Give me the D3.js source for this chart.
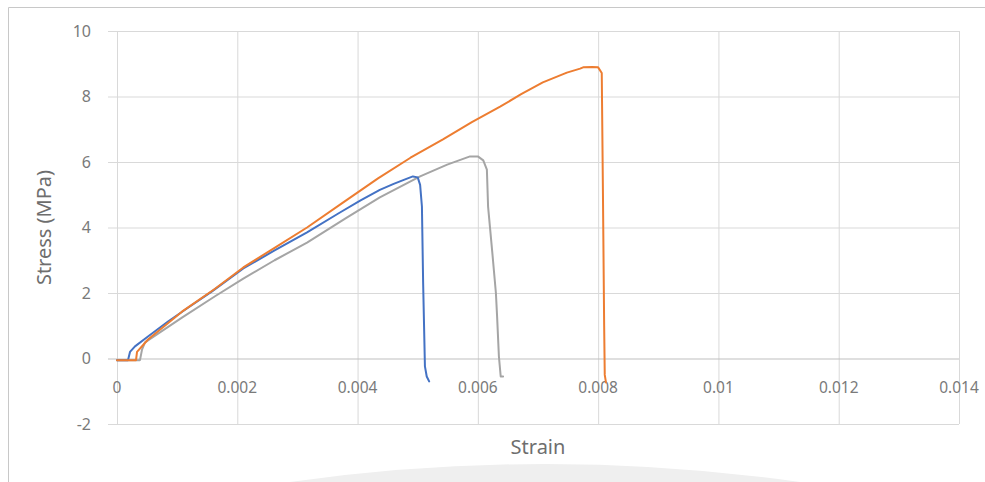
<!DOCTYPE html>
<html>
<head>
<meta charset="utf-8">
<script src="https://cdn.jsdelivr.net/npm/d3@7"></script>
<style>
  html, body { margin: 0; padding: 0; background: #fff; }
  svg { display: block; }
  text { font-family: "Noto Sans", "Open Sans", sans-serif; }
</style>
</head>
<body>
<svg id="chart" width="985" height="482"></svg>
<script>
// ---- data ----
const xTicks = [0, 0.002, 0.004, 0.006, 0.008, 0.01, 0.012, 0.014];
const xTickLabels = ["0", "0.002", "0.004", "0.006", "0.008", "0.01", "0.012", "0.014"];
const yTicks = [-2, 0, 2, 4, 6, 8, 10];
const yTickLabels = ["-2", "0", "2", "4", "6", "8", "10"];

const blueStrain = [0, 0.000183, 0.000216, 0.000299, 0.000515, 0.000848, 0.00118, 0.00158, 0.00210, 0.00262, 0.00316, 0.00370, 0.00405, 0.00437, 0.00460, 0.00478, 0.00492, 0.00500, 0.00504, 0.00507, 0.00509, 0.00512, 0.00515, 0.00519];
const blueStress = [-0.05, -0.05, 0.2, 0.37, 0.67, 1.13, 1.55, 2.05, 2.75, 3.30, 3.85, 4.45, 4.83, 5.15, 5.33, 5.46, 5.56, 5.53, 5.30, 4.64, 2.32, -0.24, -0.55, -0.70];

const orangeStrain = [0, 0.000316, 0.000333, 0.000515, 0.00108, 0.00163, 0.00210, 0.00262, 0.00316, 0.00375, 0.00434, 0.00488, 0.00542, 0.00590, 0.00637, 0.00672, 0.00708, 0.00748, 0.00770, 0.00775, 0.00790, 0.00800, 0.00806, 0.00808, 0.00810, 0.00811, 0.00813];
const orangeStress = [-0.05, -0.05, 0.2, 0.58, 1.43, 2.13, 2.78, 3.38, 4.00, 4.75, 5.50, 6.13, 6.69, 7.22, 7.69, 8.07, 8.43, 8.73, 8.85, 8.89, 8.90, 8.89, 8.72, 5.0, 1.0, -0.5, -0.73];

const grayStrain = [0, 0.000382, 0.000416, 0.000466, 0.00108, 0.00163, 0.00210, 0.00262, 0.00316, 0.00380, 0.00437, 0.00504, 0.00549, 0.00587, 0.00600, 0.00609, 0.00615, 0.00617, 0.00624, 0.00630, 0.00632, 0.00635, 0.00638, 0.00642];
const grayStress = [-0.05, -0.05, 0.27, 0.49, 1.25, 1.90, 2.44, 3.00, 3.54, 4.28, 4.92, 5.56, 5.92, 6.17, 6.17, 6.05, 5.77, 4.64, 3.24, 2.00, 1.28, 0.06, -0.55, -0.55];

const seriesColors = ["#4472C4", "#ED7D31", "#A5A5A5"];

// ---- layout ----
const svg = d3.select("#chart");
const W = 985, H = 482;
const plot = { left: 117, right: 959, top: 31, bottom: 424 };

const x = d3.scaleLinear().domain([0, 0.014]).range([plot.left, plot.right]);
const y = d3.scaleLinear().domain([-2, 10]).range([plot.bottom, plot.top]);

// faint watermark dome at the bottom
{
  const p = d3.path();
  p.moveTo(290, 482);
  p.quadraticCurveTo(545, 446, 800, 482);
  p.closePath();
  svg.append("path").attr("d", p.toString()).attr("fill", "#efefef");
}

// outer frame (top and left edges visible)
svg.append("line").attr("x1", 8.5).attr("x2", W).attr("y1", 7.5).attr("y2", 7.5)
  .attr("stroke", "#c8c8c8").attr("stroke-width", 1);
svg.append("line").attr("x1", 8.5).attr("x2", 8.5).attr("y1", 7.5).attr("y2", H)
  .attr("stroke", "#c8c8c8").attr("stroke-width", 1);

// vertical gridlines
const xAxis = d3.axisBottom(x).tickValues(xTicks).tickSize(-(plot.bottom - plot.top)).tickFormat("");
svg.append("g").attr("transform", `translate(0,${plot.bottom})`).call(xAxis)
  .call(g => g.select(".domain").remove())
  .call(g => g.selectAll(".tick line").attr("stroke", "#d9d9d9").attr("stroke-width", 1));

// horizontal gridlines with labels
const yAxis = d3.axisLeft(y).tickValues(yTicks)
  .tickSize(-(plot.right - plot.left + 9)).tickPadding(0)
  .tickFormat((d, i) => yTickLabels[i]);
svg.append("g").attr("transform", `translate(${plot.right},0)`).call(yAxis)
  .call(g => g.select(".domain").remove())
  .call(g => g.selectAll(".tick line")
      .attr("x1", 0).attr("x2", -(plot.right - plot.left + 9))
      .attr("stroke", d => d === 0 ? "#bfbfbf" : "#d9d9d9").attr("stroke-width", 1))
  .call(g => g.selectAll(".tick text")
      .attr("x", -(plot.right - 91)).attr("dy", "0.34em")
      .attr("text-anchor", "end")
      .attr("fill", "#7a7a7a").style("font-size", "16px"));

// x tick labels next to the zero line
svg.append("g").selectAll("text").data(xTicks).join("text")
  .attr("x", d => x(d)).attr("y", y(0) + 34)
  .attr("text-anchor", "middle")
  .attr("fill", "#7a7a7a").style("font-size", "15.5px")
  .text((d, i) => xTickLabels[i]);

// series
const line = d3.line().x(d => x(d[0])).y(d => y(d[1]));
const series = [
  d3.zip(blueStrain, blueStress),
  d3.zip(orangeStrain, orangeStress),
  d3.zip(grayStrain, grayStress)
];
const drawOrder = [2, 0, 1];
drawOrder.forEach(i => {
  svg.append("path").datum(series[i])
    .attr("d", line).attr("fill", "none")
    .attr("stroke", seriesColors[i]).attr("stroke-width", 2)
    .attr("stroke-linejoin", "round").attr("stroke-linecap", "round");
});

// axis titles
svg.append("text").attr("x", (plot.left + plot.right) / 2).attr("y", 454)
  .attr("text-anchor", "middle").attr("fill", "#6e6e6e").style("font-size", "20px")
  .text("Strain");
svg.append("text").attr("transform", `translate(51,${(plot.top + plot.bottom) / 2}) rotate(-90)`)
  .attr("text-anchor", "middle").attr("fill", "#6e6e6e").style("font-size", "20px")
  .text("Stress (MPa)");
</script>
</body>
</html>
